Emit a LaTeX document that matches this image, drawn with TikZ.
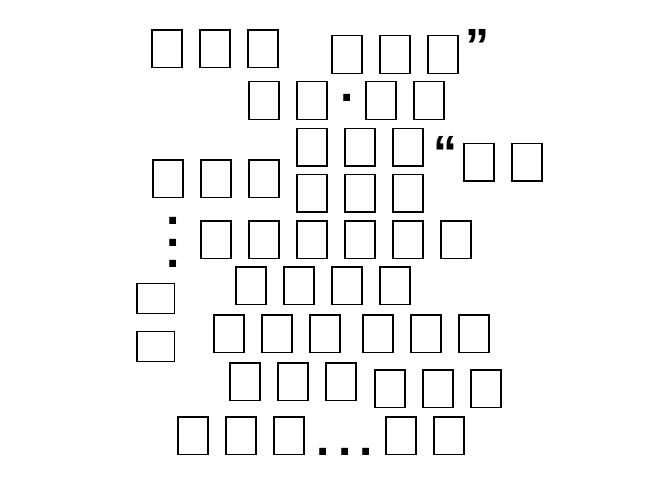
\documentclass[tikz,border=0pt]{standalone}
\usepackage{fontspec}
\newfontfamily\punctfont{Liberation Sans}
\usetikzlibrary{positioning}
\tikzset{
	tofu/.style={draw, line width=1.2pt, inner sep=0pt, minimum width=30.1pt, minimum height=37.8pt},
	tofuside/.style={tofu, minimum width=37.8pt, minimum height=30.1pt},
	punct/.style={inner sep=0pt, font=\punctfont\bfseries\fontsize{48}{21.5}\selectfont}
}
\begin{document}
\begin{tikzpicture}[x=1pt, y=-1pt]
		\useasboundingbox (0, 0) rectangle (672, 480);
		\foreach \x [count=\i] in {167, 215, 263} \node[tofu] (ra-\i) at (\x, 48.8) {};
		\foreach \x [count=\i] in {347, 395, 443} \node[tofu] (rb-\i) at (\x, 54.7) {};
		\node[punct, anchor=north] (rquote) at (477, 29.3) {”};
		\foreach \x [count=\i] in {264, 312, 381, 429} \node[tofu] (rc-\i) at (\x, 100.5) {};
		\node[punct] (middot) at (346.7, 97.8) {.};
		\foreach \x [count=\i] in {312, 360, 408} \node[tofu] (rd-\i) at (\x, 147) {};
		\node[punct, anchor=north] (lquote) at (445.3, 136.7) {“};
		\foreach \x [count=\i] in {479, 527} \node[tofu] (re-\i) at (\x, 162) {};
		\foreach \x [count=\i] in {168, 216, 264} \node[tofu] (rf-\i) at (\x, 178.8) {};
		\foreach \x [count=\i] in {312, 360, 408} \node[tofu] (rg-\i) at (\x, 193) {};
		\node[punct, align=center, anchor=south] (vdots) at (172.7, 267.7) {.\\.\\.};
		\foreach \x [count=\i] in {216, 264, 312, 360, 408, 456} \node[tofu] (rh-\i) at (\x, 239.8) {};
		\foreach \x [count=\i] in {251, 299, 347, 395} \node[tofu] (ri-\i) at (\x, 285.8) {};
		\foreach \y [count=\i] in {298.8, 346.8} \node[tofuside] (side-\i) at (155.8, \y) {};
		\foreach \x [count=\i] in {229, 277, 325, 378, 426, 474} \node[tofu] (rj-\i) at (\x, 333.8) {};
		\foreach \x [count=\i] in {245, 293, 341} \node[tofu] (rk-\i) at (\x, 381.8) {};
		\foreach \x [count=\i] in {390, 438, 486} \node[tofu] (rl-\i) at (\x, 388.8) {};
		\foreach \x [count=\i] in {193, 241, 289, 401, 449} \node[tofu] (rm-\i) at (\x, 435.8) {};
		\node[punct, anchor=south] (hdots) at (345, 455.7) {.\hspace{8.2pt}.\hspace{8.2pt}.};
	\end{tikzpicture}
\end{document}
